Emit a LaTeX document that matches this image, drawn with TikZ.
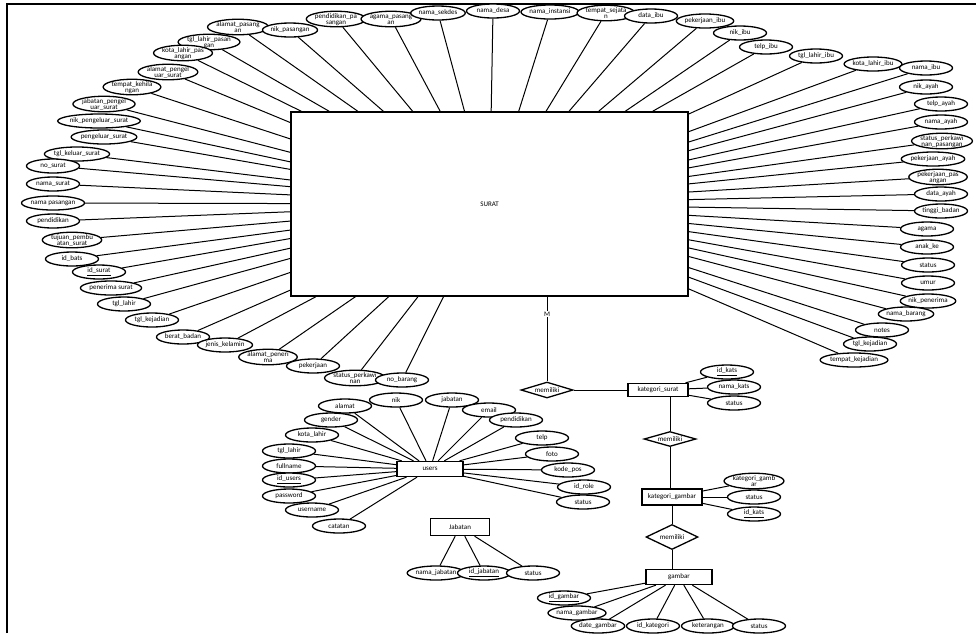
\documentclass[tikz,border=0pt]{standalone}
\usepackage{fontspec}
\setmainfont{Carlito}
\usetikzlibrary{shapes.geometric,backgrounds}
\newcommand\lblfont{\fontsize{7}{7}\selectfont}
\newcommand\two[2]{\smash{\raisebox{-5pt}{\vbox{\baselineskip=6pt\halign{\hfil##\hfil\cr#1\cr#2\cr}}}}}
\begin{document}
\begin{tikzpicture}[x=1pt,y=-1pt,
 attr/.style={draw, ellipse, fill=white, line width=1.3pt, minimum width=53pt, minimum height=14pt, inner sep=0pt, font=\lblfont},
 attrtwo/.style={attr, minimum height=15.5pt},
 ent/.style={draw, rectangle, fill=white, line width=1.3pt, inner sep=0pt, font=\lblfont},
 rel/.style={draw, diamond, aspect=3, fill=white, line width=1.3pt, inner sep=0pt, font=\lblfont},
 conn/.style={line width=1pt}]
\useasboundingbox (0,0) rectangle (976,633);
\draw[line width=1.5pt] (7,633) -- (7,4) -- (976,4);
% SURAT entity
\node[ent, minimum width=397pt, minimum height=184pt] (surat) at (489.5,204) {SURAT};
% attributes of SURAT
\node[attrtwo] (s1) at (238,27) {\two{alamat\_pasang}{an}};
\node[attr] (s2) at (290,30) {nik\_pasangan};
\node[attrtwo] (s3) at (336,19) {\two{pendidikan\_pa}{sangan}};
\node[attrtwo] (s4) at (391,19) {\two{agama\_pasang}{an}};
\node[attr] (s5) at (438,13) {nama\_sekdes};
\node[attr] (s6) at (493,11) {nama\_desa};
\node[attr] (s7) at (550,12) {nama\_instansi};
\node[attrtwo] (s8) at (606,13) {\two{tempat\_sejata}{n}};
\node[attr] (s9) at (651,16) {data\_ibu};
\node[attr] (s10) at (705,21) {pekerjaan\_ibu};
\node[attr] (s11) at (740,33) {nik\_ibu};
\node[attr] (s12) at (766,47) {telp\_ibu};
\node[attr] (s13) at (816,56) {tgl\_lahir\_ibu};
\node[attr] (s14) at (873,64) {kota\_lahir\_ibu};
\node[attr] (s15) at (926,68) {nama\_ibu};
\node[attr] (s16) at (926,87) {nik\_ayah};
\node[attr] (s17) at (941,104) {telp\_ayah};
\node[attr] (s18) at (941,122) {nama\_ayah};
\node[attrtwo] (s19) at (942,141) {\two{status\_perkawi}{nan\_pasangan}};
\node[attr] (s20) at (933,159) {pekerjaan\_ayah};
\node[attrtwo] (s21) at (938,177) {\two{pekerjaan\_pas}{angan}};
\node[attr] (s22) at (941,194) {data\_ayah};
\node[attr] (s23) at (941,211) {tinggi\_badan};
\node[attr] (s24) at (927,229) {agama};
\node[attr] (s25) at (927,247) {anak\_ke};
\node[attr] (s26) at (928,265) {status};
\node[attr] (s27) at (928,283) {umur};
\node[attr] (s28) at (928,301) {nik\_penerima};
\node[attr] (s29) at (906,314) {nama\_barang};
\node[attr] (s30) at (882,330) {notes};
\node[attr] (s31) at (870,344) {tgl\_kejadian};
\node[attr] (s32) at (854,360) {tempat\_kejadian};
\node[attrtwo] (s33) at (209,42) {\two{tgl\_lahir\_pasan}{gan}};
\node[attrtwo] (s34) at (183,53) {\two{kota\_lahir\_pas}{angan}};
\node[attrtwo] (s35) at (168,72) {\two{alamat\_pengel}{uar\_surat}};
\node[attrtwo] (s36) at (132,87) {\two{tempat\_kehila}{ngan}};
\node[attrtwo] (s37) at (104,104) {\two{jabatan\_pengel}{uar\_surat}};
\node[attr] (s38) at (99,121) {nik\_pengeluar\_surat};
\node[attr] (s39) at (104,137) {pengeluar\_surat};
\node[attr] (s40) at (77,154) {tgl\_keluar\_surat};
\node[attr] (s41) at (53,166) {no\_surat};
\node[attr] (s42) at (53,184) {nama\_surat};
\node[attr] (s43) at (53,203) {nama pasangan};
\node[attr] (s44) at (53,221) {pendidikan};
\node[attrtwo] (s45) at (72,240) {\two{tujuan\_pembu}{atan\_surat}};
\node[attr] (s46) at (72,259) {id\_bats};
\node[attr] (s47) at (99,272) {\underline{id\_surat}};
\node[attr] (s48) at (111,288) {penerima surat};
\node[attr] (s49) at (124,304) {tgl\_lahir};
\node[attr] (s50) at (152,320) {tgl\_kejadian};
\node[attr] (s51) at (183,337) {berat\_badan};
\node[attr] (s52) at (225,345) {jenis\_kelamin};
\node[attrtwo] (s53) at (268,357) {\two{alamat\_peneri}{ma}};
\node[attr] (s54) at (313,366) {pekerjaan};
\node[attrtwo] (s55) at (355,378) {\two{status\_perkawi}{nan}};
\node[attr] (s56) at (402,380) {no\_barang};
% relation SURAT - kategori_surat
\node[rel, minimum width=52pt, minimum height=16pt] (d1) at (547,390) {memiliki};
\node[ent, minimum width=60pt, minimum height=13pt] (ks) at (658,390) {kategori\_surat};
\node[attr] (k1) at (727,372) {\underline{id\_kats}};
\node[attr] (k2) at (734,387) {nama\_kats};
\node[attr] (k3) at (734,403) {status};
\node[rel, minimum width=52pt, minimum height=15pt] (d2) at (670,439) {memiliki};
\node[ent, minimum width=60pt, minimum height=16pt] (kg) at (672,497) {kategori\_gambar};
\node[attrtwo] (g1) at (754,481) {\two{kategori\_gamb}{ar}};
\node[attr] (g2) at (754,497) {status};
\node[attr] (g3) at (754,514) {\underline{id\_kats}};
\node[rel, minimum width=52pt, minimum height=25pt] (d3) at (672,537) {memiliki};
\node[ent, minimum width=66pt, minimum height=15pt] (gb) at (679,577) {gambar};
\node[attr] (ga1) at (564,598) {\underline{id\_gambar}};
\node[attr] (ga2) at (577,613) {nama\_gambar};
\node[attr] (ga3) at (598,626) {date\_gambar};
\node[attr] (ga4) at (653,626) {id\_kategori};
\node[attr] (ga5) at (708,626) {keterangan};
\node[attr] (ga6) at (759,626) {status};
% users
\node[ent, minimum width=66pt, minimum height=15pt] (users) at (430,469) {users};
\node[attr] (u1) at (345,406) {alamat};
\node[attr] (u2) at (396,400) {nik};
\node[attr] (u3) at (452,400) {jabatan};
\node[attr] (u4) at (489,410) {email};
\node[attr] (u5) at (516,420) {pendidikan};
\node[attr] (u6) at (331,420) {gender};
\node[attr] (u7) at (312,435) {kota\_lahir};
\node[attr] (u8) at (542,438) {telp};
\node[attr] (u9) at (289,451) {tgl\_lahir};
\node[attr] (u10) at (552,454) {foto};
\node[attr] (u11) at (289,466) {fullname};
\node[attr] (u12) at (568,470) {kode\_pos};
\node[attr] (u13) at (289,480) {\underline{id\_users}};
\node[attr] (u14) at (584,487) {id\_role};
\node[attr] (u15) at (289,496) {password};
\node[attr] (u16) at (583,502) {status};
\node[attr] (u17) at (312,510) {username};
\node[attr] (u18) at (339,526) {catatan};
% Jabatan
\node[ent, minimum width=59pt, minimum height=17pt] (jab) at (460,527) {Jabatan};
\node[attr] (j1) at (436,573) {nama\_jabatan};
\node[attr] (j2) at (484,573) {\underline{id\_jabatan}};
\node[attr] (j3) at (533,573) {status};
% connectors
\begin{pgfonlayer}{background}
\foreach \i in {1,...,56} \draw[conn] (s\i) -- (surat);
\foreach \i in {1,...,18} \draw[conn] (u\i) -- (users);
\foreach \i in {1,2,3} \draw[conn] (j\i) -- (jab);
\foreach \i in {1,2,3} \draw[conn] (k\i) -- (ks);
\foreach \i in {1,2,3} \draw[conn] (g\i) -- (kg);
\foreach \i in {1,...,6} \draw[conn] (ga\i) -- (gb);
\draw[conn] (d1) -- (d1 |- surat.south);
\draw[conn] (d1) -- (ks);
\draw[conn] (d2) -- (d2 |- ks.south);
\draw[conn] (d2) -- (d2 |- kg.north);
\draw[conn] (d3) -- (d3 |- kg.south);
\draw[conn] (d3) -- (d3 |- gb.north);
\end{pgfonlayer}
\node[fill=white, inner sep=1pt, font=\lblfont] (m) at (547,314) {M};
\end{tikzpicture}
\end{document}
